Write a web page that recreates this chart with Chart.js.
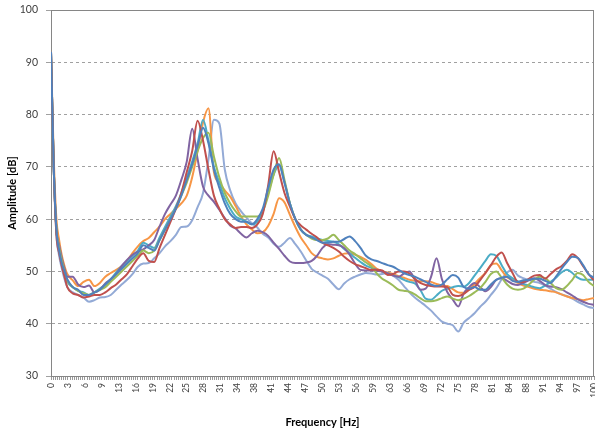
<!DOCTYPE html>
<html><head><meta charset="utf-8">
<script src="https://cdn.jsdelivr.net/npm/chart.js@4.4.0/dist/chart.umd.min.js"></script>
<style>html,body{margin:0;padding:0;background:#fff;}canvas{display:block;}</style>
</head><body>
<canvas id="c" width="595" height="434" style="width:595px;height:434px"></canvas>
<script>
const frequencies = [0,0.5,1,1.5,2,2.5,
3,4,5,6,7,8,9,10,11,12,
13,14,15,16,17,18,19,20,21,22,
23,24,25,26,27,28,29,30,31,32,
33,34,35,36,37,38,39,40,41,42,
43,44,45,46,47,48,49,50,51,52,
53,54,55,56,57,58,59,60,61,62,
63,64,65,66,67,68,69,70,71,72,
73,74,75,76,77,78,79,80,81,82,
83,84,85,86,87,88,89,90,91,92,
93,94,95,96,97,98,99,100];

const tickLabels = ['0','3','6','9','13','16','19','22','25','28','31','34','38','41','44','47','50',
'53','56','59','63','66','69','72','75','78','81','84','88','91','94','97','100'];

const series1 = [92,70,58,54,51.5,50,
48.5,47,46.5,45.5,45.5,46,46.5,47.5,48.5,49.5,
50.5,51.5,52.5,53.5,55,54.5,54,56,58,60,
62,64.5,67.5,70.5,74,77.5,74.5,69.5,66,63,
61,60,59.5,59.5,59,60,62,66,69.5,70.5,
67,63,60,58,57,56.5,56,55.5,55.5,55.7,
55.7,56.2,56.7,55.8,54.5,53,52.3,52,51.6,51.2,
50.9,50.3,49.7,49.3,49,48.5,48,47.5,47.2,47.5,
48.5,49.3,48.8,47,46.7,47,46.5,46.5,47.5,48.4,
48.8,49,48.2,48,48.3,48.4,48.6,48.6,48.2,47.8,
49,50.5,51.8,52.8,52.6,51.2,49.5,48.8];

const series2 = [92,70,57,53.5,51,49,
47,45.8,45.5,45,45.2,45.5,45.5,46,46.8,47.5,
48.5,49.5,51,52.5,53.5,52,51.8,54.5,57,59.5,
62,65,69,73,78.8,75,69.5,64.5,62,60,
59,58.3,58.5,58.5,58.3,59,61,66.5,73,69,
65,62.4,60,58.8,58,57.2,56.5,55.5,55,54.5,
53.8,52.8,52,51.4,51,50.6,50.3,50.3,50.2,49.3,
49.5,50,50,49.6,48.6,47.8,47.4,47.2,47.1,47.1,
47,45.5,45.3,45.7,46.5,47,48.3,49.7,51.2,52.8,
53.6,51.6,49.7,48,48,48.6,49.2,49.3,48.6,49.5,
50.4,51,52,53.3,52.6,51,49.5,48.3];

const series3 = [92,70,58,54.5,52,50,
48.3,47,46.3,45.8,45.5,46,46.5,47,48,49,
50,51,52,53,54,53.5,54,56,58,60,
62,64.5,67,70,73,75.5,76.5,72,68,65,
63,61.5,60.5,60.5,60.5,60.5,61.5,64.5,68.5,71.7,
67.5,63,60,58,57,56.3,56,56,56.3,57,
56,55,54,53.3,52.5,51.7,51,49.6,48.6,48,
47.3,46.5,46.3,46.1,45.6,44.9,44.3,44.3,44.5,44.9,
45.2,44.8,44.5,44.8,45.3,46,46.8,48,49.5,50,
48.8,47.5,46.7,46.5,46.7,47.5,48.4,49,48.7,47.8,
46.8,46.5,47.2,48.4,49.7,49.3,48,47.2];

const series4 = [92,70,58,55,52.5,50.5,
49,49,47.5,47,47.3,46,46.5,47.7,48.5,49.5,
51,52.2,53.2,53.8,54.2,55,56,58.6,61,62.8,
64.5,67.5,71,77.3,71.5,66.2,64.5,63.3,61.8,60.2,
58.8,58.2,57.2,56.5,57.3,57.8,57.5,56.8,55.5,54.3,
53,51.9,51.6,51.6,51.7,52,53,54.5,55.2,55.1,
55,54.5,53.2,51.5,50.3,50.2,50.2,50.1,50,49.6,
49.2,49,49.6,50,48.5,46.5,46.7,49,52.5,48.5,
46,44.6,43.3,45.8,47,47.8,47,46.2,47,48.4,
48.7,48.2,47.6,47.4,47.8,48.3,48.7,48.2,47.4,47.1,
47,46.6,46,45.4,44.7,44.2,43.8,43.6];

const series5 = [92,70,58,54,51.5,49.5,
48,47,46.3,46,45.5,46,46.7,47.5,48.5,49.8,
51,52,53,54,55.5,55,54.5,56.5,58.5,60.5,
62.5,65,68,71,74.5,79,75,70,67,64,
62,60.5,60,59.5,59,59.5,61.5,65,68.5,70.3,
67,63,60,58,57,56.7,56.3,56,55.8,55.7,
55.2,54.3,53.5,52.6,51.8,51.1,50.7,50.3,50,49.6,
49.3,48.9,48.4,48,47.7,46.5,44.8,44.6,45.4,46.3,
46.7,47,47.2,47.1,47.8,49.2,50.6,52,53.3,53,
51.2,49.5,48.7,48.1,47.6,47.3,47,46.8,47.3,48,
48.8,49.8,50.3,49.7,48.8,48.4,48.4,48.4];

const series6 = [92,72,60,56,53,51,
49.5,48.3,47.2,48,48.4,47.2,47.8,49,49.7,50.3,
51,52,53.5,54.8,55.8,56.4,57.5,58.6,60,61,
62,63,64.5,68,73,78.5,81.2,69,67,65.5,
64.3,62.5,60.5,59,58,57.3,57.5,58.7,61,64,
63.2,60.8,58.5,56.5,55,53.5,52.8,52.5,52.3,52.5,
53,53.4,53.5,53.2,52.8,52.2,51.4,50.5,50,49.8,
49.5,49.1,48.8,48.4,48.2,48.1,48.1,48,47.6,47.3,
47.2,46.6,46,45.9,46.5,47.6,48.7,49.7,51.2,51.5,
50.2,48.9,48.4,47.8,47.3,47,46.7,46.5,46.4,46.2,
46,45.6,45.2,44.9,44.7,44.5,44.7,44.9];

const series7 = [92,70,57,53,50.5,48.5,
47,46,45.5,45,44.2,44.5,45,45.1,45.5,46.5,
47.5,48.4,49.5,50.9,51.5,51.6,52.5,53.5,54.8,55.8,
57,58.5,58.6,59.8,62.3,65,71.4,79,78.3,69.5,
65.5,63,61.5,60.3,59.2,58.4,57.2,56.5,55.3,54.7,
55.5,56.4,55.2,53.8,52.1,50.5,49.8,49.2,48.6,47.5,
46.6,47.7,48.5,49,49.4,49.7,49.6,49.4,49.5,49.7,
49.2,48.4,47.2,46,45,44.2,43.4,42.5,41.4,40.4,
40,39.7,38.5,40.2,41.1,42,43.2,44.2,45.5,46.8,
48.5,49.8,50.3,49.2,48.7,48.4,48,47.8,47.3,46.7,
46.1,45.6,45.3,44.8,44.2,43.7,43.2,43];

const seriesList = [series1, series2, series3, series4, series5, series6, series7];
const colors = ['#4F81BD','#C0504D','#9BBB59','#8064A2','#4BACC6','#F79646','#93AAD6'];

const plotBorder = {
  id: 'plotBorder',
  beforeDatasetsDraw(chart) {
    const {ctx, chartArea: a} = chart;
    ctx.save();
    ctx.strokeStyle = '#868686';
    ctx.lineWidth = 1;
    ctx.strokeRect(Math.round(a.left) + 0.5, Math.round(a.top) + 0.5,
                   Math.round(a.right) - Math.round(a.left) - 1, Math.round(a.bottom) - Math.round(a.top));
    ctx.restore();
  }
};

new Chart(document.getElementById('c'), {
  type: 'line',
  data: {
    labels: frequencies,
    datasets: seriesList.map((s, i) => ({
      data: s,
      borderColor: colors[i],
      backgroundColor: colors[i],
      borderWidth: 2,
      pointRadius: 0,
      fill: false,
      cubicInterpolationMode: 'monotone'
    }))
  },
  options: {
    responsive: false,
    animation: false,
    devicePixelRatio: 1,
    layout: { padding: { top: 10, right: 1, bottom: 0, left: 0 } },
    plugins: { legend: { display: false }, tooltip: { enabled: false } },
    scales: {
      x: {
        type: 'linear',
        min: 0, max: 100,
        afterFit(scale) { scale.height = 58; scale.paddingLeft = 0; scale.paddingRight = 0; },
        ticks: {
          stepSize: 0.390625,
          autoSkip: false,
          minRotation: 90, maxRotation: 90,
          padding: 3,
          color: '#404040',
          font: { family: 'Lato', size: 8.5 },
          callback: (v, i) => (i % 8 === 0 ? tickLabels[i / 8] : '')
        },
        grid: { drawOnChartArea: false, drawTicks: true, tickLength: 4, color: '#9a9a9a', tickColor: '#9a9a9a' },
        border: { display: true, color: '#868686' },
        title: { display: true, text: 'Frequency [Hz]', color: '#000', font: { family: 'Lato', size: 11, weight: 'bold' }, padding: { top: 0, bottom: 5 } }
      },
      y: {
        min: 30, max: 100,
        afterFit(scale) { scale.width = 51; scale.paddingTop = 0; scale.paddingBottom = 0; },
        ticks: { stepSize: 10, padding: 8, color: '#404040', font: { family: 'Lato', size: 10.5 } },
        grid: { color: '#a0a0a0', tickLength: 5, tickColor: '#a0a0a0' },
        border: { display: true, color: '#868686', dash: [3, 3] },
        title: { display: true, text: 'Amplitude [dB]', color: '#000', font: { family: 'Lato', size: 11, weight: 'bold' }, padding: { top: 6, bottom: 0 } }
      }
    }
  },
  plugins: [plotBorder]
});
</script>
</body></html>
